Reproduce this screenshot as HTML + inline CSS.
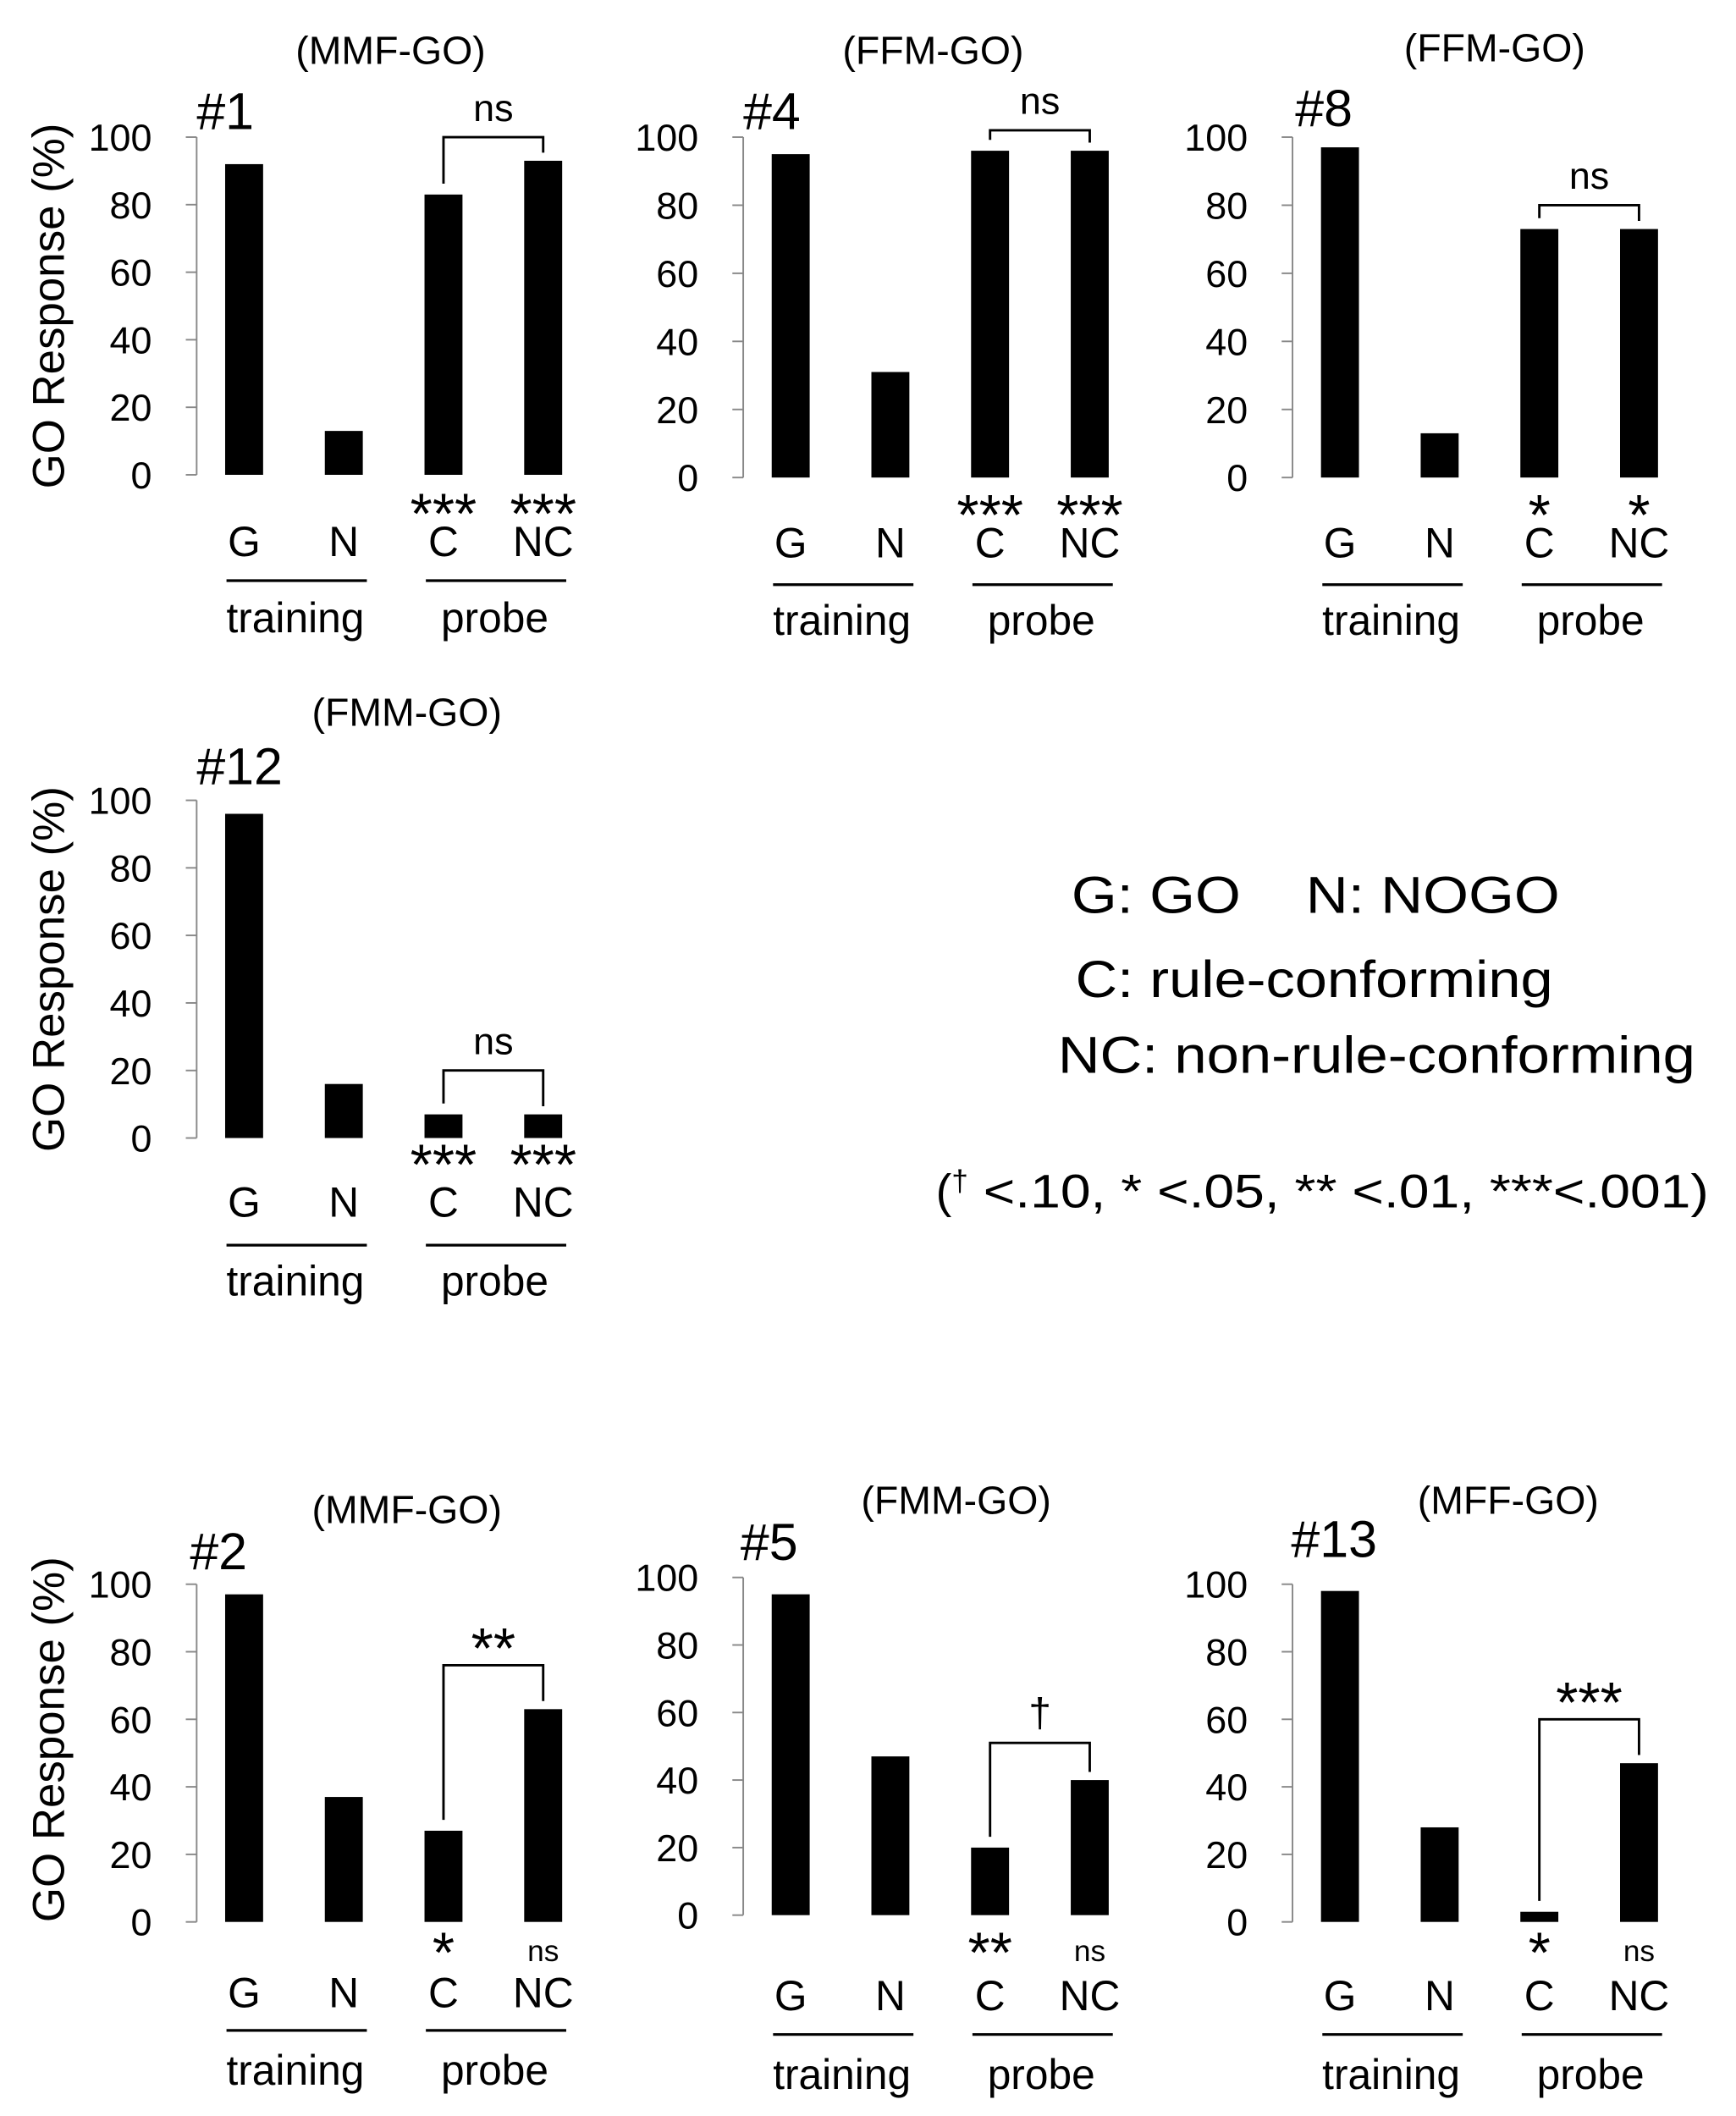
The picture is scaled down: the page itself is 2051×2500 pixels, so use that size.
<!DOCTYPE html>
<html><head><meta charset="utf-8"><style>
html,body{margin:0;padding:0;background:#fff}
svg{display:block}
text{font-family:"Liberation Sans",Arial,sans-serif;fill:#000}
</style></head><body>
<svg id="fig" xmlns="http://www.w3.org/2000/svg" width="2051" height="2500" viewBox="0 0 1280 1560">
<g>
<text x="790" y="673" font-size="38" textLength="360" lengthAdjust="spacingAndGlyphs" xml:space="preserve">G: GO    N: NOGO</text>
<text x="793" y="735" font-size="38" textLength="352" lengthAdjust="spacingAndGlyphs">C: rule-conforming</text>
<text x="780" y="791" font-size="38" textLength="470" lengthAdjust="spacingAndGlyphs">NC: non-rule-conforming</text>
<text x="690" y="890" font-size="35">(<tspan font-size="22" dy="-12">†</tspan><tspan dy="12" textLength="546" lengthAdjust="spacingAndGlyphs"> &lt;.10, * &lt;.05, ** &lt;.01, ***&lt;.001)</tspan></text>
</g>
</svg>
<script>
// data arrays
const categories = ["G","N","C","NC"];
const panelIds = ["#1","#4","#8","#12","#2","#5","#13"];
const panelTitles = ["(MMF-GO)","(FFM-GO)","(FFM-GO)","(FMM-GO)","(MMF-GO)","(FMM-GO)","(MFF-GO)"];
const values1 = [92, 13, 83, 93];
const values4 = [95, 31, 96, 96];
const values8 = [97, 13, 73, 73];
const values12 = [96, 16, 7, 7];
const values2 = [97, 37, 27, 63];
const values5 = [95, 47, 20, 40];
const values13 = [98, 28, 3, 47];
const seriesValues = [values1, values4, values8, values12, values2, values5, values13];
const starLabels = [["***","***"],["***","***"],["*","*"],["***","***"],["*","ns"],["**","ns"],["*","ns"]];
const compareLabels = ["ns","ns","ns","ns","**","†","***"];
const bracketLevels = [100, 102, 80, 20, 76, 51, 60];
const tickLabels = [0,20,40,60,80,100];

// layout (not data)
const layout = [
 {ax:145,top:101,bot:350,tx:288,ty:47,hx:145,hy:95,lab:410,line:428,grp:466,star:389},
 {ax:548,top:101,bot:352,tx:688,ty:47,hx:548,hy:95,lab:411,line:431,grp:468,star:390},
 {ax:953,top:101,bot:352,tx:1102,ty:45,hx:955,hy:93,lab:411,line:431,grp:468,star:390},
 {ax:145,top:590,bot:839,tx:300,ty:535,hx:145,hy:578,lab:897,line:918,grp:955,star:869},
 {ax:145,top:1168,bot:1417,tx:300,ty:1123,hx:140,hy:1157,lab:1480,line:1497,grp:1537,star:1450},
 {ax:548,top:1163,bot:1412,tx:705,ty:1116,hx:546,hy:1150,lab:1482,line:1500,grp:1540,star:1450},
 {ax:953,top:1168,bot:1417,tx:1112,ty:1116,hx:952,hy:1148,lab:1482,line:1500,grp:1540,star:1450}
];
const NS='http://www.w3.org/2000/svg';
const svg=document.getElementById('fig');
function mk(tag,attrs,parent,txt){const e=document.createElementNS(NS,tag);for(const k in attrs)e.setAttribute(k,attrs[k]);if(txt!==undefined)e.textContent=txt;parent.appendChild(e);return e;}

seriesValues.forEach((vals,p)=>{
 const L=layout[p];
 const g=mk('g',{},svg);
 
 
 const y=v=>L.bot-(v/100)*(L.bot-L.top);
 const xc=i=>L.ax+35+i*73.5;
 const axis=mk('line',{x1:L.ax,y1:L.top,x2:L.ax,y2:L.bot,stroke:'#888','stroke-width':1.2},g);
 
 
 tickLabels.forEach(t=>{
  mk('line',{x1:L.ax-8,y1:y(t),x2:L.ax,y2:y(t),stroke:'#888','stroke-width':1.2},g);
  const tl=mk('text',{x:L.ax-33,y:y(t)+10,'font-size':28,'text-anchor':'end'},g,String(t));
  
  
 });
 vals.forEach((v,i)=>{
  const r=mk('rect',{x:xc(i)-14,y:y(v),width:28,height:L.bot-y(v),fill:'#000'},g);
  
  
  const cl=mk('text',{x:xc(i),y:L.lab,'font-size':31,'text-anchor':'middle'},g,categories[i]);
  
  
 });
 [2,3].forEach((i,k)=>{
  const s=starLabels[p][k];
  const isNs=s==='ns';
  const st=mk('text',{x:xc(i),y:isNs?L.star-4:L.star+4,'font-size':(isNs?22:42),'text-anchor':'middle'},g,s);
  
  
 });
 const by=y(bracketLevels[p]);
 const x1=xc(2),x2=xc(3);
 const br=mk('path',{d:`M${x1},${y(vals[2])-8}V${by}H${x2}V${y(vals[3])-6}`,fill:'none',stroke:'#000','stroke-width':1.8},g);
 
 
 const cl=compareLabels[p];
 const isStar=cl.indexOf('*')>=0;
 const ct=mk('text',{x:(x1+x2)/2,y:isStar?by+2:by-12,'font-size':cl==='ns'?28:(isStar?42:30),'text-anchor':'middle'},g,cl);
 
 
 const l1=mk('line',{x1:xc(0)-13,y1:L.line,x2:xc(1)+17,y2:L.line,stroke:'#000','stroke-width':2},g);
 
 
 const l2=mk('line',{x1:xc(2)-13,y1:L.line,x2:xc(3)+17,y2:L.line,stroke:'#000','stroke-width':2},g);
 
 
 const t1=mk('text',{x:(xc(0)+xc(1))/2+1,y:L.grp,'font-size':31,'text-anchor':'middle'},g,'training');
 
 
 const t2=mk('text',{x:(xc(2)+xc(3))/2+1,y:L.grp,'font-size':31,'text-anchor':'middle'},g,'probe');
 
 
 const ti=mk('text',{x:L.tx,y:L.ty,'font-size':29,'text-anchor':'middle'},g,panelTitles[p]);
 
 
 const hi=mk('text',{x:L.hx,y:L.hy,'font-size':38},g,panelIds[p]);
 
 
 if(p===0||p===3||p===4){
  const cy=(L.top+L.bot)/2+(p===4?-10:0);
  const yt=mk('text',{x:0,y:0,'font-size':33,'text-anchor':'middle',transform:`translate(47,${cy}) rotate(-90)`},g,'GO Response (%)');
  
  
 }
});
</script>
</body></html>
